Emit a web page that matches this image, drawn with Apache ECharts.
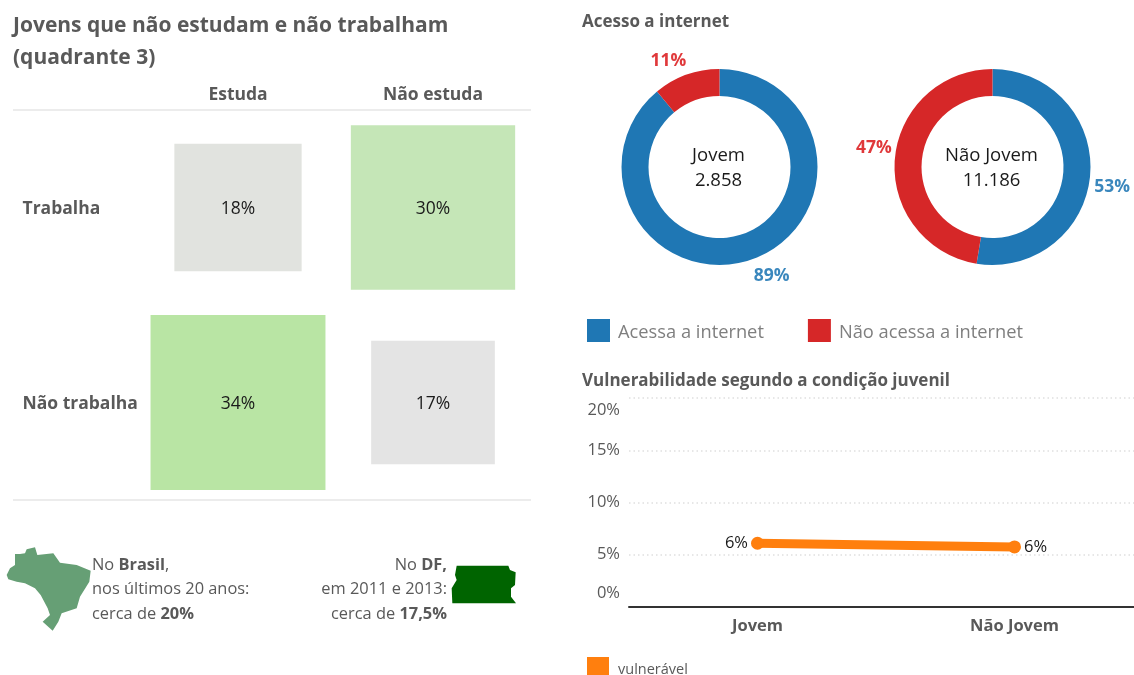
<!DOCTYPE html>
<html><head><meta charset="utf-8">
<style>html,body{margin:0;padding:0;background:#fff}#c{width:1134px;height:675px}</style>
<script src="https://cdn.jsdelivr.net/npm/echarts@6/dist/echarts.min.js"></script></head>
<body><div id="c"></div>
<script>
const FONT = '"Open Sans", "Noto Sans", sans-serif';
const studyCols = ['Estuda', 'Não estuda'];
const workRows = ['Não trabalha', 'Trabalha'];
const quadrantValues = [18, 30, 34, 17];
const quadrantCells = [[0, 1], [1, 1], [0, 0], [1, 0]];
const quadrantColors = ['#e1e3df', '#c5e6b7', '#b9e5a4', '#e4e4e4'];
const internetNames = ['Acessa a internet', 'Não acessa a internet'];
const youngShares = [89, 11];
const nonYoungShares = [52.6, 47.4];
const youngTotal = '2.858';
const nonYoungTotal = '11.186';
const lineCats = ['Jovem', 'Não Jovem'];
const vulnerable = [6.1, 5.75];
const BLUE = '#1f77b4', RED = '#d62728', ORANGE = '#ff7f0e', GRAY = '#595959';

const brazilOutline = [[20,105],[30,85],[45,75],[45,42],[60,42],[75,40],[80,28],[105,22],[112,45],[160,40],[180,68],[230,75],[272,92],[268,125],[240,170],[230,205],[185,220],[175,245],[158,272],[128,245],[150,225],[143,205],[122,165],[105,145],[75,130],[50,125],[25,118]]
  .map(p => [p[0] / 3, 540 + p[1] / 3]);
const dfOutline = [[35,32],[190,32],[195,45],[212,52],[210,90],[198,100],[198,125],[213,145],[22,145],[20,100],[35,75],[30,60]]
  .map(p => [445 + p[0] / 3, 555 + p[1] / 3]);

function pie(center, values, offsets) {
  return {
    type: 'pie', center, radius: [71, 98], startAngle: 90, clockwise: true, silent: true,
    avoidLabelOverlap: false,
    data: values.map((v, i) => ({
      name: internetNames[i], value: v,
      itemStyle: { color: i ? RED : BLUE },
      label: { color: i ? '#e0383a' : '#3a87bd' }
    })),
    label: { show: true, position: 'outside', formatter: p => Math.round(p.value) + '%', fontFamily: FONT, fontWeight: 'bold', fontSize: 17.5 },
    labelLine: { show: false, length: 0, length2: 0 },
    labelLayout: p => ({ dx: offsets[p.dataIndex][0], dy: offsets[p.dataIndex][1] })
  };
}
const richFrag = { b: { fontFamily: FONT, fontSize: 16.4, fontWeight: 'bold', fill: GRAY, color: GRAY, lineHeight: 24.5 } };
const noteStyle = { fontFamily: FONT, fontSize: 16.4, fill: GRAY, lineHeight: 24.5 };

const option = {
  backgroundColor: '#fff',
  animation: false,
  textStyle: { fontFamily: FONT },
  title: [
    { text: 'Jovens que não estudam e não trabalham\n(quadrante 3)', left: 8, top: 5, textStyle: { fontFamily: FONT, fontSize: 21, fontWeight: 'bold', color: GRAY, lineHeight: 32 } },
    { text: 'Acesso a internet', left: 577, top: 9, textStyle: { fontFamily: FONT, fontSize: 17, fontWeight: 'bold', color: GRAY } },
    { text: 'Vulnerabilidade segundo a condição juvenil', left: 577, top: 368, textStyle: { fontFamily: FONT, fontSize: 17, fontWeight: 'bold', color: GRAY } }
  ],
  legend: [
    { data: internetNames, left: 582, top: 314, orient: 'horizontal', icon: 'rect', itemWidth: 23, itemHeight: 23, itemGap: 44,
      selectedMode: false, formatter: n => '{a|' + n + '}',
      textStyle: { rich: { a: { fontFamily: FONT, fontSize: 18.3, color: '#7f7f7f', padding: [4, 0, 0, 3] } } } },
    { data: ['vulnerável'], left: 582, top: 652, icon: 'rect', itemWidth: 22, itemHeight: 20, selectedMode: false,
      formatter: n => '{a|' + n + '}',
      textStyle: { rich: { a: { fontFamily: FONT, fontSize: 14.5, color: GRAY, padding: [6, 0, 0, 4] } } } }
  ],
  grid: [
    { left: 140.5, top: 110, width: 390, height: 390, outerBoundsMode: 'none' },
    { left: 629, top: 398, width: 514, height: 209, outerBoundsMode: 'none' }
  ],
  xAxis: [
    { type: 'category', gridIndex: 0, position: 'top', data: studyCols, axisLine: { show: false }, axisTick: { show: false },
      axisLabel: { fontFamily: FONT, fontSize: 17.5, fontWeight: 'bold', color: GRAY, margin: 6 } },
    { type: 'category', gridIndex: 1, data: lineCats, axisLine: { lineStyle: { color: '#333', width: 2 } }, axisTick: { show: false },
      axisLabel: { fontFamily: FONT, fontSize: 16.5, fontWeight: 'bold', color: GRAY, margin: 11 } }
  ],
  yAxis: [
    { type: 'category', gridIndex: 0, data: workRows, axisLine: { show: false }, axisTick: { show: false },
      axisLabel: { align: 'left', margin: 118, formatter: n => '{a|' + n + '}',
        rich: { a: { fontFamily: FONT, fontSize: 17.5, fontWeight: 'bold', color: GRAY, padding: [3, 0, 0, 0] } } } },
    { type: 'value', gridIndex: 1, min: 0, max: 20, interval: 5, axisLine: { show: false }, axisTick: { show: false },
      splitLine: { lineStyle: { color: '#e0e0e0', type: [1.5, 3], width: 1.5 } },
      axisLabel: { fontFamily: FONT, fontSize: 16.5, color: GRAY, margin: 9,
        formatter: v => v === 20 ? '{t|20%}' : v === 0 ? '{z|0%}' : v + '%',
        rich: { t: { fontFamily: FONT, fontSize: 16.5, color: GRAY, padding: [4, 0, 0, 0] }, z: { fontFamily: FONT, fontSize: 16.5, color: GRAY, padding: [0, 0, 5, 0] } },
        verticalAlignMinLabel: 'bottom', verticalAlignMaxLabel: 'top', showMinLabel: true, showMaxLabel: true } }
  ],
  series: [
    { type: 'scatter', xAxisIndex: 0, yAxisIndex: 0, silent: true, symbol: 'rect',
      symbolSize: v => Math.sqrt(v[2]) * 30,
      data: quadrantValues.map((v, i) => ({ value: [quadrantCells[i][0], quadrantCells[i][1], v], itemStyle: { color: quadrantColors[i], opacity: 1 } })),
      label: { show: true, position: 'inside', offset: [0, 2], formatter: p => p.value[2] + '%', color: '#1a1a1a', fontFamily: FONT, fontSize: 17.5 } },
    pie([719.5, 167], youngShares, [[-4, 17], [5, -14]]),
    pie([992.5, 167], nonYoungShares, [[-1, 12], [2, -11]]),
    { type: 'line', name: 'vulnerável', xAxisIndex: 1, yAxisIndex: 1, silent: true, symbol: 'circle', symbolSize: 13,
      data: vulnerable.map((v, i) => ({ value: v, label: { position: i ? 'right' : 'left' } })),
      itemStyle: { color: ORANGE }, lineStyle: { color: ORANGE, width: 9 },
      label: { show: true, formatter: p => Math.round(p.value) + '%', color: '#1a1a1a', fontFamily: FONT, fontSize: 16.5, distance: 3 } }
  ],
  graphic: [
    { type: 'line', silent: true, shape: { x1: 13, y1: 110, x2: 531, y2: 110 }, style: { stroke: '#d9d9d9', lineWidth: 1 } },
    { type: 'line', silent: true, shape: { x1: 13, y1: 500, x2: 531, y2: 500 }, style: { stroke: '#d9d9d9', lineWidth: 1 } },
    { type: 'text', silent: true, x: 718.5, y: 168, style: { text: 'Jovem\n' + youngTotal, align: 'center', verticalAlign: 'middle', fontFamily: FONT, fontSize: 18.5, lineHeight: 25, fill: '#1a1a1a' } },
    { type: 'text', silent: true, x: 991.5, y: 168, style: { text: 'Não Jovem\n' + nonYoungTotal, align: 'center', verticalAlign: 'middle', fontFamily: FONT, fontSize: 18.5, lineHeight: 25, fill: '#1a1a1a' } },
    { type: 'polygon', silent: true, shape: { points: brazilOutline }, style: { fill: '#669f75' } },
    { type: 'polygon', silent: true, shape: { points: dfOutline }, style: { fill: '#006400' } },
    { type: 'text', silent: true, x: 92, y: 553, style: Object.assign({ text: 'No {b|Brasil},\nnos últimos 20 anos:\ncerca de {b|20%}', align: 'left', rich: richFrag }, noteStyle) },
    { type: 'text', silent: true, x: 447, y: 553, style: Object.assign({ text: 'No {b|DF,}\nem 2011 e 2013:\ncerca de {b|17,5%}', align: 'right', rich: richFrag }, noteStyle) }
  ]
};
echarts.init(document.getElementById('c'), null, { renderer: 'canvas' }).setOption(option);
</script></body></html>
